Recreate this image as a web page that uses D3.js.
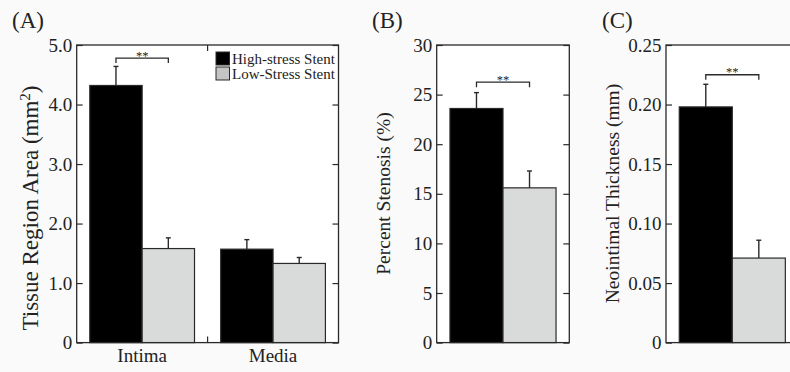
<!DOCTYPE html>
<html>
<head>
<meta charset="utf-8">
<script src="https://cdn.jsdelivr.net/npm/d3@7"></script>
<style>
  body { margin: 0; background: #fafafa; }
  text { font-family: "Liberation Serif", "Times New Roman", serif; fill: #222; }
</style>
</head>
<body>
<div id="chart"></div>
<script>
// data
var seriesNames = ["High-stress Stent", "Low-Stress Stent"];
var regions = ["Intima", "Media"];

var highAreaMean = [4.32, 1.57];
var highAreaErr = [0.32, 0.16];
var lowAreaMean = [1.58, 1.33];
var lowAreaErr = [0.18, 0.10];

var stenosisMean = [23.6, 15.6];
var stenosisErr = [1.6, 1.7];

var thicknessMean = [0.198, 0.071];
var thicknessErr = [0.019, 0.015];

var areaTicks = [0, 1, 2, 3, 4, 5];
var stenosisTicks = [0, 5, 10, 15, 20, 25, 30];
var thicknessTicks = [0, 0.05, 0.10, 0.15, 0.20, 0.25];

var svgWidth = 790;
var svgHeight = 372;
var plotTop = 45;
var plotBottom = 342.6;
var ink = "#2a2a2a";
var colors = ["#000000", "#d9dada"];

var svg = d3.select("#chart").append("svg")
  .attr("width", svgWidth)
  .attr("height", svgHeight);

function drawPanel(p) {
  var g = svg.append("g");

  var x = d3.scaleBand()
    .domain(p.categories)
    .range([p.left, p.right])
    .paddingInner(0.2)
    .paddingOuter(0.1);
  var xs = d3.scaleBand()
    .domain(seriesNames)
    .range([0, x.bandwidth()]);
  var y = d3.scaleLinear()
    .domain([0, p.max])
    .range([plotBottom, plotTop]);

  g.append("rect")
    .attr("x", p.left).attr("y", plotTop)
    .attr("width", p.right - p.left).attr("height", plotBottom - plotTop)
    .attr("fill", "#fff");

  // rows: one per category, one entry per series
  var rows = [];
  p.categories.forEach(function(c, i) {
    seriesNames.forEach(function(s, j) {
      rows.push({cat: c, series: s, k: j, mean: p.means[j][i], err: p.errs[j][i]});
    });
  });

  g.append("g").selectAll("rect")
    .data(rows)
    .enter()
    .append("rect")
      .attr("x", function(d) { return x(d.cat) + xs(d.series); })
      .attr("y", function(d) { return y(d.mean); })
      .attr("width", xs.bandwidth())
      .attr("height", function(d) { return plotBottom - y(d.mean); })
      .attr("fill", function(d) { return colors[d.k]; })
      .attr("stroke", ink)
      .attr("stroke-width", 1.2);

  // error bars (upper only)
  var eb = g.append("g").selectAll("g")
    .data(rows)
    .enter()
    .append("g")
    .attr("stroke", ink)
    .attr("stroke-width", 1.4);
  eb.append("line")
    .attr("x1", function(d) { return x(d.cat) + xs(d.series) + xs.bandwidth() / 2; })
    .attr("x2", function(d) { return x(d.cat) + xs(d.series) + xs.bandwidth() / 2; })
    .attr("y1", function(d) { return y(d.mean); })
    .attr("y2", function(d) { return y(d.mean + d.err); });
  eb.append("line")
    .attr("x1", function(d) { return x(d.cat) + xs(d.series) + xs.bandwidth() / 2 - 2.5; })
    .attr("x2", function(d) { return x(d.cat) + xs(d.series) + xs.bandwidth() / 2 + 2.5; })
    .attr("y1", function(d) { return y(d.mean + d.err); })
    .attr("y2", function(d) { return y(d.mean + d.err); });

  // axes with inward ticks
  var left = g.append("g")
    .attr("transform", "translate(" + p.left + ",0)")
    .call(d3.axisLeft(y).tickValues(p.ticks).tickSize(-6).tickPadding(4.5).tickFormat(p.fmt));
  left.select(".domain").remove();
  left.selectAll("line").attr("stroke", ink).attr("stroke-width", 1.2);
  left.selectAll("text").attr("font-size", "19px").attr("fill", "#222")
    .attr("font-family", "Liberation Serif, serif");

  var right = g.append("g")
    .attr("transform", "translate(" + p.right + ",0)")
    .call(d3.axisRight(y).tickValues(p.ticks).tickSize(-6).tickFormat(""));
  right.select(".domain").remove();
  right.selectAll("line").attr("stroke", ink).attr("stroke-width", 1.2);

  // separators between categories
  p.categories.slice(1).forEach(function(c) {
    var sx = x(c) - x.step() * x.paddingInner() / 2;
    g.append("line").attr("x1", sx).attr("x2", sx).attr("y1", plotBottom).attr("y2", plotBottom - 6)
      .attr("stroke", ink).attr("stroke-width", 1.2);
    g.append("line").attr("x1", sx).attr("x2", sx).attr("y1", plotTop).attr("y2", plotTop + 6)
      .attr("stroke", ink).attr("stroke-width", 1.2);
  });

  g.append("rect")
    .attr("x", p.left).attr("y", plotTop)
    .attr("width", p.right - p.left).attr("height", plotBottom - plotTop)
    .attr("fill", "none")
    .attr("stroke", ink)
    .attr("stroke-width", 1.3);

  if (p.showCats) {
    g.append("g").selectAll("text")
      .data(p.categories)
      .enter()
      .append("text")
      .attr("x", function(d) { return x(d) + x.bandwidth() / 2; })
      .attr("y", 362)
      .attr("text-anchor", "middle")
      .attr("font-size", "19px")
      .text(function(d) { return d; });
  }

  // significance bracket
  var c0 = p.categories[0];
  var bx1 = x(c0) + xs(seriesNames[0]) + xs.bandwidth() / 2;
  var bx2 = x(c0) + xs(seriesNames[1]) + xs.bandwidth() / 2;
  var by = y(p.sig);
  g.append("path")
    .attr("d", "M" + bx1 + "," + (by + 5) + "V" + by + "H" + bx2 + "V" + (by + 5))
    .attr("fill", "none")
    .attr("stroke", ink)
    .attr("stroke-width", 1.3);
  g.append("text")
    .attr("x", (bx1 + bx2) / 2)
    .attr("y", by + 1.5)
    .attr("text-anchor", "middle")
    .attr("font-size", "12.5px")
    .attr("fill", "#555")
    .text("**");

  // axis title
  var t = g.append("text")
    .attr("transform", "translate(" + p.titleX + "," + p.titleY + ") rotate(-90)")
    .attr("text-anchor", "middle")
    .attr("font-size", p.titleSize);
  t.append("tspan").text(p.title);
  if (p.titleSup) {
    t.append("tspan").attr("baseline-shift", "super").attr("font-size", "0.65em").text(p.titleSup);
    t.append("tspan").text(p.titleEnd);
  }

  g.append("text")
    .attr("x", p.labelX)
    .attr("y", 28)
    .attr("font-size", "23px")
    .text(p.label);

  return {x: x, xs: xs, y: y};
}

var fmt1 = function(d) { return d === 0 ? "0" : d3.format(".1f")(d); };
var fmt0 = function(d) { return d3.format("d")(d); };
var fmt2 = function(d) { return d === 0 ? "0" : d3.format(".2f")(d); };

drawPanel({
  categories: regions, means: [highAreaMean, lowAreaMean], errs: [highAreaErr, lowAreaErr],
  left: 76.7, right: 338.5, max: 5, ticks: areaTicks, fmt: fmt1, sig: 4.78, showCats: true,
  title: "Tissue Region Area (mm", titleSup: "2", titleEnd: ")", titleSize: "23px",
  titleX: 37.5, titleY: 208, label: "(A)", labelX: 12
});
drawPanel({
  categories: ["Intima"], means: [[stenosisMean[0]], [stenosisMean[1]]], errs: [[stenosisErr[0]], [stenosisErr[1]]],
  left: 436.7, right: 569.3, max: 30, ticks: stenosisTicks, fmt: fmt0, sig: 26.25, showCats: false,
  title: "Percent Stenosis (%)", titleSize: "19.5px",
  titleX: 390, titleY: 193.5, label: "(B)", labelX: 372
});
drawPanel({
  categories: ["Intima"], means: [[thicknessMean[0]], [thicknessMean[1]]], errs: [[thicknessErr[0]], [thicknessErr[1]]],
  left: 666, right: 798.6, max: 0.25, ticks: thicknessTicks, fmt: fmt2, sig: 0.225, showCats: false,
  title: "Neointimal Thickness (mm)", titleSize: "19.5px",
  titleX: 619, titleY: 193.5, label: "(C)", labelX: 602
});

// legend
var legend = svg.append("g").selectAll("g")
  .data(seriesNames)
  .enter()
  .append("g")
  .attr("transform", function(d, i) { return "translate(216," + (52 + i * 15) + ")"; });
legend.append("rect")
  .attr("width", 13.5).attr("height", 13)
  .attr("fill", function(d, i) { return i === 0 ? colors[0] : "#c4c4c4"; })
  .attr("stroke", ink)
  .attr("stroke-width", 1);
legend.append("text")
  .attr("x", 16)
  .attr("y", 11.5)
  .attr("font-size", "15px")
  .text(function(d) { return d; });
</script>
</body>
</html>
